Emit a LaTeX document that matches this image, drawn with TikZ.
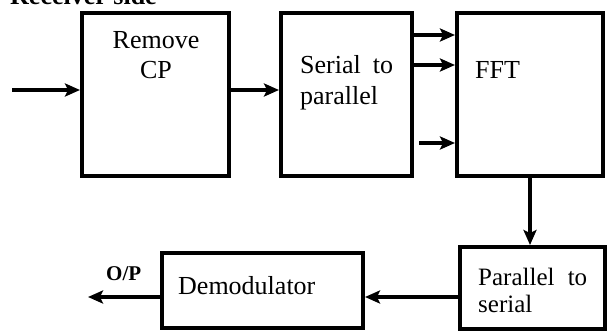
\documentclass[tikz,border=0pt]{standalone}
\usepackage{fontspec}
\setmainfont{Liberation Serif}
\usetikzlibrary{arrows.meta}

\begin{document}
\begin{tikzpicture}[x=1pt,y=-1pt]
			\tikzstyle{block}=[rectangle,draw=black,line width=4pt,inner sep=0pt,minimum width=#1]
			\tikzstyle{txt}=[inner sep=0pt,font=\fontsize{26}{31}\selectfont]
			\tikzstyle{arr}=[line width=4pt,-{Stealth[length=15pt,width=13pt,inset=3pt]}]
			\useasboundingbox (0,0) rectangle (607,332);
			\clip (0,0) rectangle (607,332);
			% upper row
			\node (rcp)[block=147pt,minimum height=163pt] at (155.5,94.5) {};
			\node (s2p)[block=131pt,minimum height=163pt] at (346.5,94.5) {};
			\node (fft)[block=146pt,minimum height=163pt] at (530,94.5) {};
			% lower row
			\node (p2s)[block=145pt,minimum height=82pt] at (532.5,288) {};
			\node (demod)[block=201pt,minimum height=75pt] at (262.5,290.5) {};
			\coordinate (in) at (12,90);
			\coordinate (out) at (88,297);
			% texts
			\node[txt,anchor=base west,font=\fontsize{26}{31}\selectfont\bfseries] (title) at (10,5) {Receiver side};
			\node[txt,anchor=base,align=center,font=\fontsize{26}{30}\selectfont] (rcptxt) at (156,78) {Remove\\CP};
			\node[txt,anchor=base west,align=justify,text width=93pt] (s2ptxt) at (300,73) {Serial to parallel};
			\node[txt,anchor=base west] (ffttxt) at (475,78) {FFT};
			\node[txt,anchor=base west,align=justify,text width=109pt,font=\fontsize{25}{27}\selectfont] (p2stxt) at (478,285) {Parallel to serial};
			\node[txt,anchor=base west] (demodtxt) at (178,294) {Demodulator};
			\node[txt,anchor=base west,font=\fontsize{21}{24}\selectfont\bfseries] (optxt) at (106,280) {O/P};
			% connectors
			\draw[arr] (in) -- (in -| rcp.west);
			\draw[arr] (rcp.east |- in) -- (s2p.west |- in);
			\draw[arr] (s2p.east |- 0,35) -- (fft.west |- 0,35);
			\draw[arr] (s2p.east |- 0,65) -- (fft.west |- 0,65);
			\draw[arr] ([xshift=5pt]s2p.east |- 0,143) -- (fft.west |- 0,143);
			\draw[arr] (fft.south) -- (fft.south |- p2s.north);
			\draw[arr] (p2s.west |- 0,297) -- (demod.east |- 0,297);
			\draw[arr] (demod.west |- out) -- (out);
		\end{tikzpicture}
\end{document}
